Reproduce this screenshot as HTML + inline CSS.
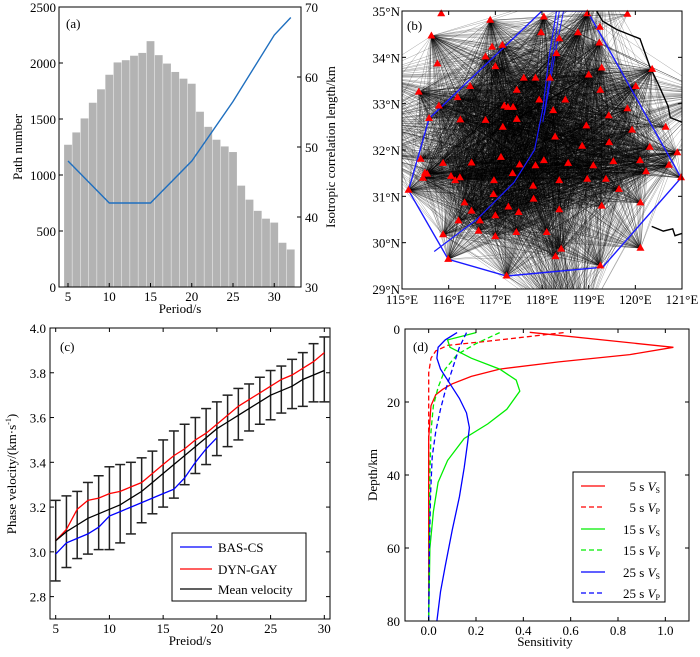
<!DOCTYPE html>
<html><head><meta charset="utf-8">
<style>
html,body{margin:0;padding:0;background:#fff;}
svg{display:block;font-family:"Liberation Serif",serif;}
</style></head>
<body>
<svg id="fig" width="700" height="657" viewBox="0 0 700 657" xmlns="http://www.w3.org/2000/svg">
<defs>
<clipPath id="clipA"><rect x="59" y="7" width="242" height="280"/></clipPath>
<clipPath id="clipB"><rect x="402" y="11" width="280" height="278"/></clipPath>
<clipPath id="clipC"><rect x="50" y="328" width="280" height="291"/></clipPath>
<clipPath id="clipD"><rect x="405" y="329" width="284" height="292"/></clipPath>
</defs>
<g id="pa"></g>
<g id="pb"></g>
<g id="pc"></g>
<g id="pd"></g>
</svg>
<script>
// ---------- Panel (a) data ----------
const aPeriods = [5,6,7,8,9,10,11,12,13,14,15,16,17,18,19,20,21,22,23,24,25,26,27,28,29,30,31,32];
const aPathCounts = [1270,1380,1505,1645,1765,1895,2005,2025,2065,2090,2195,2070,1995,1920,1860,1815,1565,1430,1315,1255,1205,905,780,680,610,575,395,335];
const aCorrPeriods = [5,10,15,20,25,30,32];
const aCorrLength = [48,42,42,48,56.5,66,68.5];
const aXTicks = [5,10,15,20,25,30];
const aYTicks = [0,500,1000,1500,2000,2500];
const aY2Ticks = [30,40,50,60,70];

// ---------- Panel (b) data ----------
const bStations = [[115.84,34.94],[116.89,34.80],[115.63,34.46],[116.93,34.22],[117.15,34.26],[116.79,34.01],[115.76,33.86],[117.0,33.80],[118.04,34.87],[117.98,34.53],[118.97,34.94],[118.77,34.53],[119.24,34.65],[119.23,34.31],[119.28,33.77],[118.37,34.40],[118.31,34.08],[119.0,33.62],[119.83,34.93],[120.36,33.74],[120.01,33.37],[119.25,33.29],[117.61,33.55],[117.86,33.55],[118.17,33.55],[116.46,33.37],[115.36,33.25],[117.46,33.29],[116.19,33.13],[117.94,33.08],[118.50,33.08],[115.79,32.95],[117.19,32.95],[117.27,32.92],[117.38,32.92],[118.24,32.85],[115.58,32.68],[116.25,32.65],[116.79,32.64],[117.46,32.66],[117.16,32.49],[119.83,32.89],[119.43,32.74],[118.95,32.52],[119.93,32.43],[120.65,32.49],[118.28,32.28],[119.44,32.16],[118.86,32.08],[120.31,32.06],[120.90,31.94],[115.40,31.80],[117.12,31.84],[116.49,31.72],[115.88,31.71],[117.52,31.68],[117.86,31.66],[118.04,31.77],[118.56,31.71],[119.1,31.66],[119.53,31.75],[120.10,31.77],[120.72,31.67],[120.98,31.40],[120.23,31.53],[115.49,31.50],[115.54,31.48],[115.45,31.39],[116.05,31.43],[116.14,31.34],[116.24,31.40],[117.37,31.49],[116.97,31.34],[118.37,31.34],[118.97,31.37],[119.37,31.37],[115.14,31.13],[116.96,31.04],[117.81,31.22],[117.82,30.94],[119.65,31.15],[120.11,30.86],[116.34,30.86],[116.49,30.68],[117.28,30.77],[117.50,30.65],[118.37,30.71],[119.28,30.79],[117.0,30.58],[116.21,30.47],[116.67,30.47],[116.64,30.25],[117.45,30.22],[118.10,30.22],[115.88,30.17],[117.0,30.13],[120.11,29.88],[118.41,29.86],[118.29,29.70],[115.99,29.64],[119.25,29.50],[117.24,29.28]];
const bOffStations = [[114.3,33.6],[114.2,32.6],[114.4,31.9],[118.6,28.4],[118.9,28.3],[118.2,28.5],[119.3,35.6],[121.6,33.2]];
const bPolygon = [[118.0,35.0],[118.97,35.0],[120.98,31.40],[119.3,29.47],[117.24,29.28],[115.99,29.64],[115.14,31.13],[115.58,32.68],[118.0,35.0]];
const bFault = [[115.69,29.81],[116.6,30.5],[117.4,31.3],[117.84,32.0],[118.02,32.9],[118.15,34.0],[118.31,35.0]];
const bFault2 = [[118.02,32.6],[118.2,33.8],[118.37,35.0]];
const bFault3 = [[118.05,32.75],[118.25,33.9],[118.46,35.0]];
const bCoast = [[119.17,35.0],[119.3,34.78],[119.6,34.6],[120.1,34.4],[120.31,33.8],[120.5,33.4],[120.7,32.95],[120.75,32.7],[121.0,32.6]];
const bCoast2 = [[120.35,30.35],[120.6,30.25],[120.8,30.3],[120.85,30.15],[121.0,30.2]];
const bLonTicks = [115,116,117,118,119,120,121];
const bLatTicks = [29,30,31,32,33,34,35];

// ---------- Panel (c) data ----------
const cPeriods = [5,6,7,8,9,10,11,12,13,14,15,16,17,18,19,20,21,22,23,24,25,26,27,28,29,30];
const cMean = [3.05,3.09,3.12,3.15,3.17,3.19,3.21,3.24,3.27,3.31,3.35,3.39,3.43,3.47,3.51,3.55,3.58,3.61,3.64,3.67,3.70,3.72,3.74,3.77,3.79,3.81];
const cUpper = [3.23,3.25,3.27,3.31,3.34,3.38,3.39,3.40,3.42,3.45,3.50,3.54,3.57,3.60,3.64,3.67,3.70,3.73,3.75,3.78,3.81,3.83,3.86,3.89,3.93,3.96];
const cLower = [2.87,2.93,2.97,2.99,3.01,3.01,3.04,3.08,3.13,3.17,3.20,3.24,3.30,3.35,3.39,3.43,3.47,3.50,3.54,3.57,3.59,3.62,3.64,3.65,3.67,3.67];
const cDyn = [3.05,3.10,3.19,3.23,3.24,3.26,3.27,3.29,3.31,3.35,3.39,3.43,3.46,3.50,3.53,3.57,3.61,3.65,3.68,3.71,3.74,3.77,3.79,3.82,3.85,3.89];
const cBasPeriods = [5,6,7,8,9,10,11,12,13,14,15,16,17,18,19,20];
const cBas = [2.99,3.04,3.06,3.08,3.11,3.16,3.18,3.20,3.22,3.24,3.26,3.28,3.33,3.40,3.46,3.51];
const cXTicks = [5,10,15,20,25,30];
const cYTicks = [2.8,3.0,3.2,3.4,3.6,3.8,4.0];

// ---------- Panel (d) data ----------
const d5Vs = [[0.427,0.9],[1.034,5],[0.85,7],[0.55,9],[0.3,11],[0.18,13],[0.1,15],[0.06,16.5],[0.03,18],[0.01,21],[0.005,25],[0.0,30],[0.0,80]];
const d5Vp = [[0.57,1],[0.3,3],[0.08,4.5],[0.03,6],[0.01,8],[0.0,12],[0.0,80]];
const d15Vs = [[0.2,1],[0.08,3],[0.09,5],[0.18,8],[0.3,11],[0.37,14],[0.385,17],[0.33,22],[0.25,26],[0.15,30],[0.08,36],[0.04,42],[0.02,50],[0.005,60],[0.0,80]];
const d15Vp = [[0.3,1],[0.2,4],[0.12,7],[0.07,11],[0.04,16],[0.02,21],[0.01,28],[0.005,40],[0.0,80]];
const d25Vs = [[0.12,1],[0.07,3],[0.04,5],[0.035,8],[0.05,11],[0.09,15],[0.13,19],[0.16,23],[0.172,27],[0.165,31],[0.15,38],[0.13,46],[0.1,55],[0.07,65],[0.05,72],[0.035,80]];
const d25Vp = [[0.16,1],[0.13,5],[0.11,9],[0.09,13],[0.07,17],[0.05,22],[0.03,28],[0.015,35],[0.008,45],[0.003,60],[0.0,80]];
const dXTicks = [0.0,0.2,0.4,0.6,0.8,1.0];
const dYTicks = [0,20,40,60,80];

const NS='http://www.w3.org/2000/svg';
function mk(parent, tag, attrs, text){
  const e=document.createElementNS(NS,tag);
  for(const k in attrs) e.setAttribute(k,attrs[k]);
  if(text!==undefined) e.textContent=text;
  parent.appendChild(e); return e;
}
function pts(arr, fx, fy){return arr.map(p=>fx(p[0]).toFixed(1)+','+fy(p[1]).toFixed(1)).join(' ');}

// ===== Panel A =====
(function(){
  const g=document.getElementById('pa');
  const L=59,R=301,T=7,B=287;
  const x=v=>68+(v-5)*8.25;
  const y=v=>B-(v/2500)*(B-T);
  const y2=v=>B-((v-30)/40)*(B-T);
  const bars=mk(g,'g',{'clip-path':'url(#clipA)'});
  
  
  aPeriods.forEach((p,i)=>{
    const r=mk(bars,'rect',{x:x(p)-3.9,y:y(aPathCounts[i]),width:7.8,height:B-y(aPathCounts[i]),fill:'#b3b3b3'});
    
    
  });
  const ln=mk(g,'polyline',{points:pts(aCorrPeriods.map((p,i)=>[p,aCorrLength[i]]),x,y2),fill:'none',stroke:'#1f6fbf','stroke-width':1.4});
  
  
  mk(g,'rect',{x:L,y:T,width:R-L,height:B-T,fill:'none',stroke:'#000','stroke-width':1});
  aXTicks.forEach(v=>{
    mk(g,'line',{x1:x(v),x2:x(v),y1:B,y2:B-4,stroke:'#000'});
    const t=mk(g,'text',{x:x(v),y:B+14,'font-size':13,'text-anchor':'middle'},v);
    
    
  });
  aYTicks.forEach(v=>{
    mk(g,'line',{x1:L,x2:L+4,y1:y(v),y2:y(v),stroke:'#000'});
    const t=mk(g,'text',{x:L-3,y:y(v)+5,'font-size':13,'text-anchor':'end'},v);
    
    
  });
  aY2Ticks.forEach(v=>{
    mk(g,'line',{x1:R,x2:R-4,y1:y2(v),y2:y2(v),stroke:'#000'});
    const t=mk(g,'text',{x:R+4,y:y2(v)+5,'font-size':13},v);
    
    
  });
  let t=mk(g,'text',{x:180,y:313,'font-size':13,'text-anchor':'middle'},'Period/s');
  
  t=mk(g,'text',{x:22,y:147,'font-size':13,'text-anchor':'middle',transform:'rotate(-90 22 147)'},'Path number');
  
  t=mk(g,'text',{x:335,y:147,'font-size':13,'text-anchor':'middle',transform:'rotate(-90 335 147)'},'Isotropic correlation length/km');
  
  t=mk(g,'text',{x:66,y:28,'font-size':13},'(a)');
  
})();

// ===== Panel B =====
(function(){
  const g=document.getElementById('pb');
  const L=402,R=682,T=11,B=289;
  const x=v=>L+(v-115)/6*(R-L);
  const y=v=>B-(v-29)/6*(B-T);
  const rays=mk(g,'g',{'clip-path':'url(#clipB)',stroke:'#000','stroke-width':0.5,'stroke-opacity':0.36});
  
  
  let d='';
  const all=bStations.concat(bOffStations);
  for(let i=0;i<all.length;i++){
    for(let j=i+1;j<all.length;j++){
      if(i>=bStations.length && j>=bStations.length) continue;
      if((i*7+j*3)%3===0 && i<bStations.length) continue;
      d+='M'+x(all[i][0]).toFixed(1)+' '+y(all[i][1]).toFixed(1)+'L'+x(all[j][0]).toFixed(1)+' '+y(all[j][1]).toFixed(1);
    }
  }
  mk(rays,'path',{d:d,fill:'none'});
  const geo=mk(g,'g',{'clip-path':'url(#clipB)',fill:'none'});
  let e=mk(geo,'polyline',{points:pts(bCoast,x,y),stroke:'#000','stroke-width':1.4});
  
  e=mk(geo,'polyline',{points:pts(bCoast2,x,y),stroke:'#000','stroke-width':1.4});
  
  e=mk(geo,'polyline',{points:pts(bPolygon,x,y),stroke:'#1a1aff','stroke-width':1.4});
  
  e=mk(geo,'polyline',{points:pts(bFault,x,y),stroke:'#1a1aff','stroke-width':1.2});
  
  e=mk(geo,'polyline',{points:pts(bFault2,x,y),stroke:'#1a1aff','stroke-width':1});
  
  e=mk(geo,'polyline',{points:pts(bFault3,x,y),stroke:'#1a1aff','stroke-width':1});
  
  const st=mk(g,'g',{fill:'#ff0000'});
  
  
  bStations.forEach(s=>{
    const cx=x(s[0]),cy=y(s[1]);
    const p=mk(st,'polygon',{points:`${cx},${cy-4.5} ${cx-4},${cy+2.5} ${cx+4},${cy+2.5}`});
    
    
  });
  mk(g,'rect',{x:L,y:T,width:R-L,height:B-T,fill:'none',stroke:'#000','stroke-width':1});
  bLonTicks.forEach(v=>{
    mk(g,'line',{x1:x(v),x2:x(v),y1:B,y2:B-4,stroke:'#000'});
    mk(g,'line',{x1:x(v),x2:x(v),y1:T,y2:T+4,stroke:'#000'});
    const t=mk(g,'text',{x:x(v),y:B+15,'font-size':13,'text-anchor':'middle'},v+'°E');
    
  });
  bLatTicks.forEach(v=>{
    mk(g,'line',{x1:L,x2:L+4,y1:y(v),y2:y(v),stroke:'#000'});
    mk(g,'line',{x1:R,x2:R-4,y1:y(v),y2:y(v),stroke:'#000'});
    const t=mk(g,'text',{x:L-2,y:y(v)+5,'font-size':13,'text-anchor':'end'},v+'°N');
    
  });
  const t=mk(g,'text',{x:407,y:30,'font-size':13},'(b)');
  
})();

// ===== Panel C =====
(function(){
  const g=document.getElementById('pc');
  const L=50,R=330,T=328,B=619;
  const x=v=>L+(v-4.47)/26.06*(R-L);
  const y=v=>B-(v-2.7)/1.3*(B-T);
  const eb=mk(g,'g',{stroke:'#222','stroke-width':1.5,'clip-path':'url(#clipC)'});
  
  
  cPeriods.forEach((p,i)=>{
    const xx=x(p);
    mk(eb,'line',{x1:xx,x2:xx,y1:y(cUpper[i]),y2:y(cLower[i])});
    mk(eb,'line',{x1:xx-5,x2:xx+5,y1:y(cUpper[i]),y2:y(cUpper[i])});
    mk(eb,'line',{x1:xx-5,x2:xx+5,y1:y(cLower[i]),y2:y(cLower[i])});
  });
  let e=mk(g,'polyline',{points:pts(cBasPeriods.map((p,i)=>[p,cBas[i]]),x,y),fill:'none',stroke:'#0000ff','stroke-width':1.3});
  
  e=mk(g,'polyline',{points:pts(cPeriods.map((p,i)=>[p,cDyn[i]]),x,y),fill:'none',stroke:'#ff0000','stroke-width':1.3});
  
  e=mk(g,'polyline',{points:pts(cPeriods.map((p,i)=>[p,cMean[i]]),x,y),fill:'none',stroke:'#000','stroke-width':1.3});
  
  mk(g,'rect',{x:L,y:T,width:R-L,height:B-T,fill:'none',stroke:'#000','stroke-width':1});
  cXTicks.forEach(v=>{
    mk(g,'line',{x1:x(v),x2:x(v),y1:B,y2:B-4,stroke:'#000'});
    mk(g,'line',{x1:x(v),x2:x(v),y1:T,y2:T+4,stroke:'#000'});
    const t=mk(g,'text',{x:x(v),y:B+14,'font-size':13,'text-anchor':'middle'},v);
    
  });
  cYTicks.forEach(v=>{
    mk(g,'line',{x1:L,x2:L+4,y1:y(v),y2:y(v),stroke:'#000'});
    mk(g,'line',{x1:R,x2:R-4,y1:y(v),y2:y(v),stroke:'#000'});
    const t=mk(g,'text',{x:L-4,y:y(v)+5,'font-size':13,'text-anchor':'end'},v.toFixed(1));
    
  });
  let t=mk(g,'text',{x:190,y:645,'font-size':13,'text-anchor':'middle'},'Preiod/s');
  
  t=mk(g,'text',{x:16,y:474,'font-size':13,'text-anchor':'middle',transform:'rotate(-90 16 474)'});
  
  t.innerHTML='Phase velocity/(km·s<tspan font-size="8" dy="-5">-1</tspan><tspan dy="5">)</tspan>';
  t=mk(g,'text',{x:60,y:351,'font-size':13},'(c)');
  
  const lg=mk(g,'g',{});
  
  mk(lg,'rect',{x:172,y:533,width:134,height:68,fill:'#fff',stroke:'#000'});
  const items=[['BAS-CS','#0000ff',547],['DYN-GAY','#ff0000',569],['Mean velocity','#000',589]];
  items.forEach(it=>{
    const gg=mk(lg,'g',{});
    
    mk(gg,'line',{x1:180,x2:212,y1:it[2],y2:it[2],stroke:it[1],'stroke-width':1.3});
    mk(gg,'text',{x:218,y:it[2]+5,'font-size':13},it[0]);
  });
})();

// ===== Panel D =====
(function(){
  const g=document.getElementById('pd');
  const L=405,R=689,T=329,B=621;
  const x=v=>L+(v+0.1)/1.2*(R-L);
  const y=v=>T+v/80*(B-T);
  const series=[[d5Vs,'#ff0000',0,'5s-vs-line'],[d5Vp,'#ff0000',1,'5s-vp-line'],[d15Vs,'#00ee00',0,'15s-vs-line'],[d15Vp,'#00ee00',1,'15s-vp-line'],[d25Vs,'#0000ff',0,'25s-vs-line'],[d25Vp,'#0000ff',1,'25s-vp-line']];
  const cg=mk(g,'g',{'clip-path':'url(#clipD)'});
  series.forEach(s=>{
    const a={points:pts(s[0],x,y),fill:'none',stroke:s[1],'stroke-width':1.3};
    if(s[2]) a['stroke-dasharray']='5,3';
    const e=mk(cg,'polyline',a);
    
    
  });
  mk(g,'rect',{x:L,y:T,width:R-L,height:B-T,fill:'none',stroke:'#000','stroke-width':1});
  dXTicks.forEach(v=>{
    mk(g,'line',{x1:x(v),x2:x(v),y1:B,y2:B-4,stroke:'#000'});
    mk(g,'line',{x1:x(v),x2:x(v),y1:T,y2:T+4,stroke:'#000'});
    const t=mk(g,'text',{x:x(v),y:B+14,'font-size':13,'text-anchor':'middle'},v.toFixed(1));
    
  });
  dYTicks.forEach(v=>{
    mk(g,'line',{x1:L,x2:L+4,y1:y(v),y2:y(v),stroke:'#000'});
    mk(g,'line',{x1:R,x2:R-4,y1:y(v),y2:y(v),stroke:'#000'});
    const t=mk(g,'text',{x:L-5,y:y(v)+5,'font-size':13,'text-anchor':'end'},v);
    
  });
  let t=mk(g,'text',{x:545,y:646,'font-size':13,'text-anchor':'middle'},'Sensitivity');
  
  t=mk(g,'text',{x:377,y:475,'font-size':13,'text-anchor':'middle',transform:'rotate(-90 377 475)'},'Depth/km');
  
  t=mk(g,'text',{x:413,y:351,'font-size':13},'(d)');
  
  const lg=mk(g,'g',{});
  
  mk(lg,'rect',{x:573,y:472,width:92,height:130,fill:'#fff',stroke:'#000'});
  const items=[['5 s ','S','#ff0000',0,486],['5 s ','P','#ff0000',1,507],['15 s ','S','#00ee00',0,529],['15 s ','P','#00ee00',1,550],['25 s ','S','#0000ff',0,572],['25 s ','P','#0000ff',1,593]];
  items.forEach(it=>{
    const gg=mk(lg,'g',{});
    
    const a={x1:581,x2:605,y1:it[4],y2:it[4],stroke:it[2],'stroke-width':1.3};
    if(it[3]) a['stroke-dasharray']='5,3';
    mk(gg,'line',a);
    const tt=mk(gg,'text',{x:660,y:it[4]+5,'font-size':13,'text-anchor':'end'});
    tt.innerHTML=it[0]+'<tspan font-style="italic">V</tspan><tspan font-size="8" dy="2">'+it[1]+'</tspan>';
  });
})();
</script>
</body></html>
